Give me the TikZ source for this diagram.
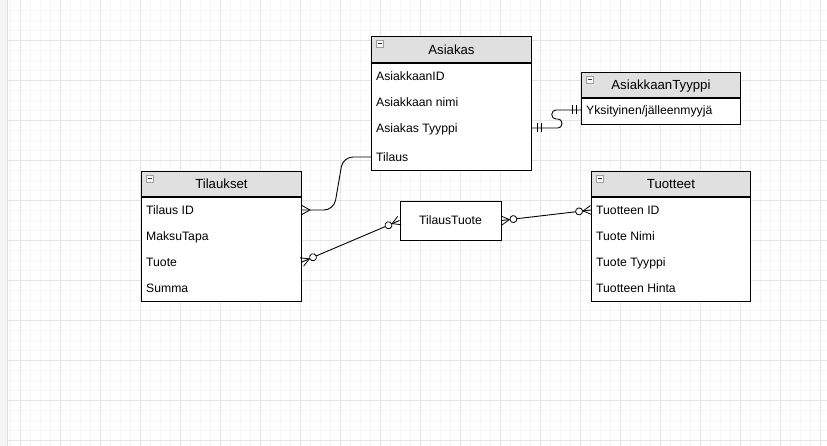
\documentclass[tikz,border=0pt]{standalone}
\usepackage{fontspec}
\setmainfont{Liberation Sans}
\usetikzlibrary{positioning,calc,decorations.markings}

\begin{document}
\begin{tikzpicture}[x=1pt, y=-1pt,
  minor/.style={gray!7, line width=0.6pt},
  major/.style={gray!20, line width=0.8pt},
  head/.style={draw, fill=gray!24, line width=0.9pt, minimum width=160pt, minimum height=26pt,
    inner sep=0pt, text height=9.4pt, text depth=0pt, font=\fontsize{13.2}{15}\selectfont, anchor=north west},
  body/.style={draw, fill=white, line width=0.9pt, minimum width=160pt, inner sep=0pt, anchor=north west},
  field/.style={anchor=west, inner sep=0pt, text height=8.8pt, text depth=0pt, font=\fontsize{12.2}{14}\selectfont},
  icon/.style={draw=gray!75, fill=gray!6, line width=0.6pt, minimum size=7pt, inner sep=0pt, anchor=north west},
  conn/.style={line width=0.9pt},
  tip/.style={line width=0.8pt, sharp corners},
  many end/.style={postaction={decorate, decoration={markings,
    mark=at position 0.9999 with {\draw[tip] (0,-4.5) -- (-8,0) -- (0,4.5);}}}},
  zmany end/.style={postaction={decorate, decoration={markings,
    mark=at position 0.9999 with {\draw[tip] (0,-4.5) -- (-8,0) -- (0,4.5);
      \draw[tip, fill=white] (-12,0) circle[radius=3.5pt];}}}},
  zmany start/.style={postaction={decorate, decoration={markings,
    mark=at position 0.0001 with {\draw[tip] (0,-4.5) -- (8,0) -- (0,4.5);
      \draw[tip, fill=white] (12,0) circle[radius=3.5pt];}}}},
  one end/.style={postaction={decorate, decoration={markings,
    mark=at position 0.9999 with {\draw[tip] (-5,-4.5) -- (-5,4.5) (-9,-4.5) -- (-9,4.5);}}}},
  one start/.style={postaction={decorate, decoration={markings,
    mark=at position 0.0001 with {\draw[tip] (5,-4.5) -- (5,4.5) (9,-4.5) -- (9,4.5);}}}}
]
  \useasboundingbox (0,0) rectangle (827,446);

  % Grid background
  \fill[white] (0,0) rectangle (827,446);
  \foreach \x in {10,20,...,820} \draw[minor] (\x,0) -- (\x,446);
  \foreach \y in {10,20,...,440} \draw[minor] (0,\y) -- (827,\y);
  \foreach \x in {20,60,...,820} \draw[major] (\x,0) -- (\x,446);
  \foreach \y in {40,80,...,440} \draw[major] (0,\y) -- (827,\y);
  \fill[gray!9] (0,0) rectangle (7,446);
  \draw[gray!25] (7,0) -- (7,446);

  % Asiakas
  \node[head] (asiakas) at (371,36) {Asiakas};
  \node[body, minimum height=107pt] (asiakasb) at (asiakas.south west) {};
  \node[icon] (asiakasi) at (376,40) {\textcolor{gray!40!black}{\rule{4pt}{0.9pt}}};
  \node[field] (asId) at (376,76) {AsiakkaanID};
  \node[field] (asNimi) at (376,102) {Asiakkaan nimi};
  \node[field] (asTyyppi) at (376,128) {Asiakas Tyyppi};
  \node[field] (asTilaus) at (376,157) {Tilaus};

  % AsiakkaanTyyppi
  \node[head, minimum width=159pt, minimum height=25pt] (tyyppi) at (581,72) {AsiakkaanTyyppi};
  \node[body, minimum width=159pt, minimum height=26pt] (tyyppib) at (tyyppi.south west) {};
  \node[icon] (tyyppii) at (586,76) {\textcolor{gray!40!black}{\rule{4pt}{0.9pt}}};
  \node[field] (tyYks) at (586,110) {Yksityinen/jälleenmyyjä};

  % Tilaukset
  \node[head, minimum height=25pt] (tilaukset) at (141,171) {Tilaukset};
  \node[body, minimum height=104pt] (tilauksetb) at (tilaukset.south west) {};
  \node[icon] (tilauksetii) at (146,175) {\textcolor{gray!40!black}{\rule{4pt}{0.9pt}}};
  \node[field] (tiId) at (146,210) {Tilaus ID};
  \node[field] (tiMaksu) at (146,236) {MaksuTapa};
  \node[field] (tiTuote) at (146,262) {Tuote};
  \node[field] (tiSumma) at (146,288) {Summa};

  % Tuotteet
  \node[head, minimum width=159pt, minimum height=25pt] (tuotteet) at (591,171) {Tuotteet};
  \node[body, minimum width=159pt, minimum height=104pt] (tuotteetb) at (tuotteet.south west) {};
  \node[icon] (tuotteeti) at (596,175) {\textcolor{gray!40!black}{\rule{4pt}{0.9pt}}};
  \node[field] (tuId) at (596,210) {Tuotteen ID};
  \node[field] (tuNimi) at (596,236) {Tuote Nimi};
  \node[field] (tuTyyppi) at (596,262) {Tuote Tyyppi};
  \node[field] (tuHinta) at (596,288) {Tuotteen Hinta};

  % TilausTuote
  \node[draw, fill=white, line width=0.9pt, minimum width=101pt, minimum height=39pt, inner sep=0pt,
    font=\fontsize{12.2}{14}\selectfont] (tilaustuote) at (450.5,220.5) {TilausTuote};

  % Relations
  \draw[conn, many end, rounded corners=10pt] (asiakasb.west |- asTilaus) -- ++(-28,0)
    -- ($(tilauksetb.east |- tiId)+(32,0)$) -- (tilauksetb.east |- tiId);
  \draw[conn, one start, one end, rounded corners=4pt] (asiakasb.east |- asTyyppi) -- ++(30,0)
    -- ++(0,-9) -- ++(-10,0) -- ++(0,-9) -- (tyyppib.west |- tyYks);
  \draw[conn, zmany start, zmany end] (tilauksetb.east |- tiTuote) -- (tilaustuote.west);
  \draw[conn, zmany start, zmany end] (tilaustuote.east) -- (tuotteetb.west |- tuId);
\end{tikzpicture}
\end{document}
